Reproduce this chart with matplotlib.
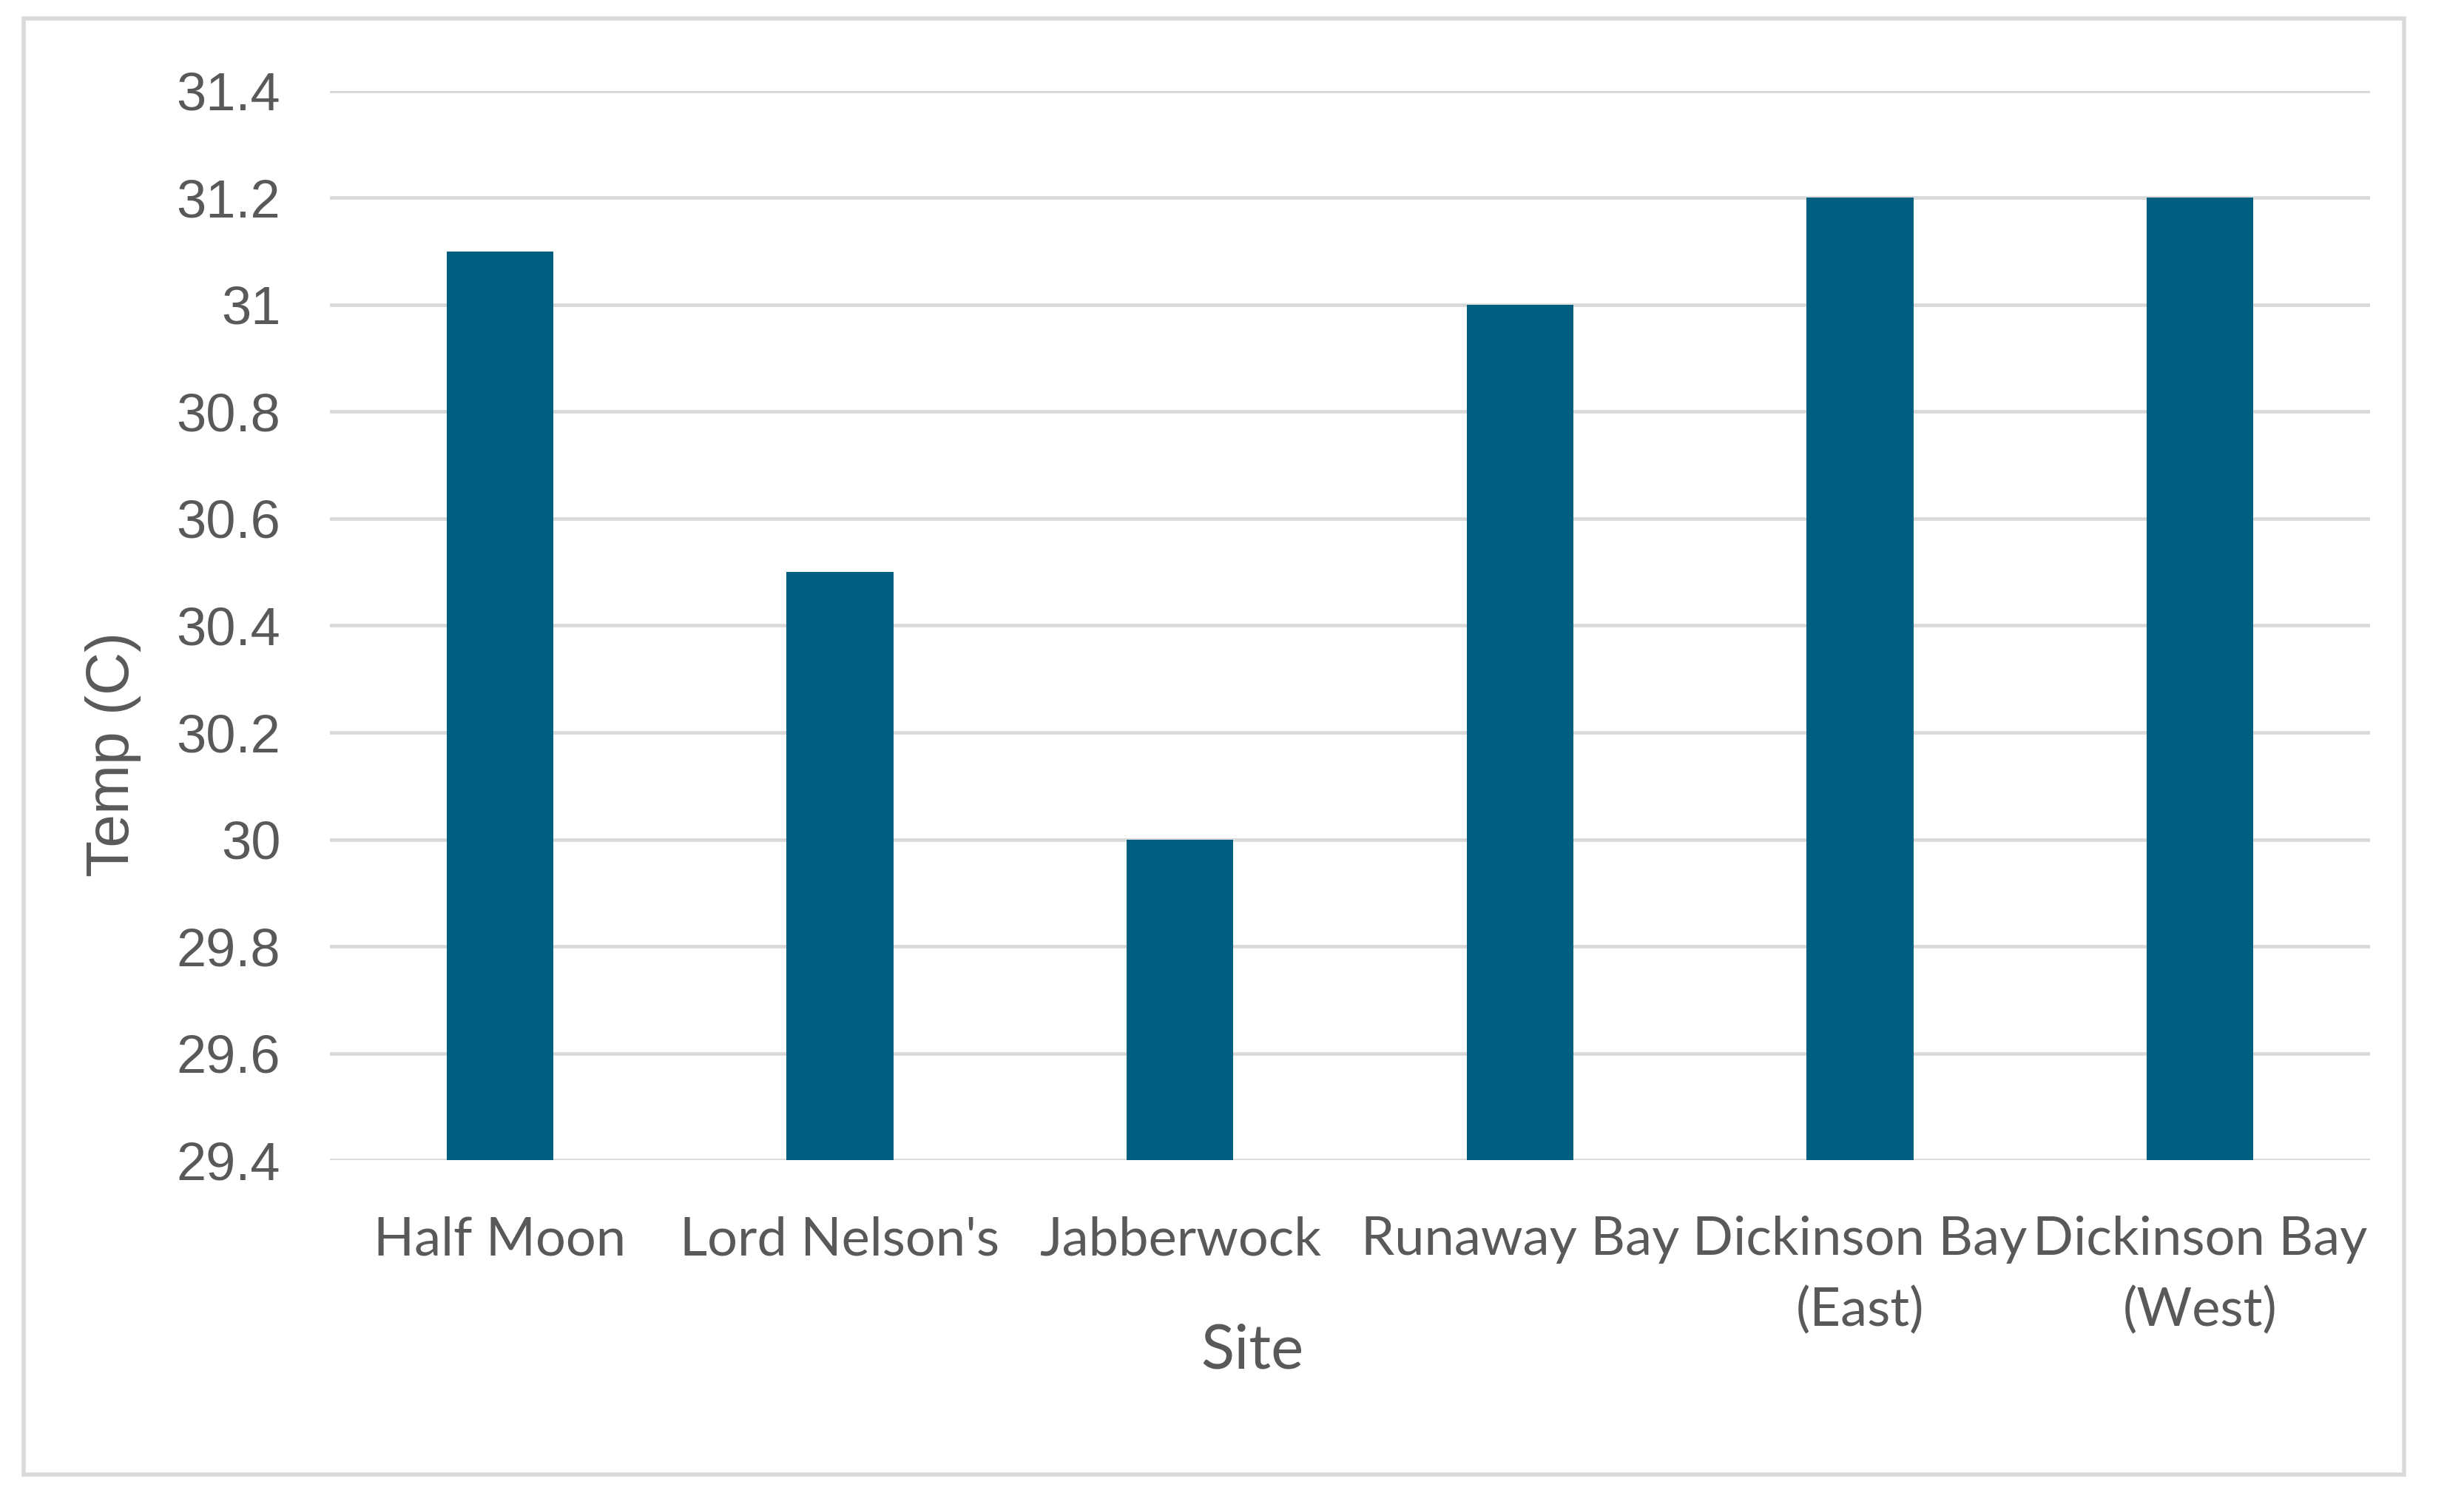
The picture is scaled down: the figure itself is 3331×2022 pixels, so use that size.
import matplotlib
matplotlib.use("Agg")
import matplotlib.pyplot as plt
from matplotlib.patches import Rectangle

sites = ["Half Moon", "Lord Nelson's", "Jabberwock", "Runaway Bay",
         "Dickinson Bay\n(East)", "Dickinson Bay\n(West)"]
temps = [31.1, 30.5, 30.0, 31.0, 31.2, 31.2]
yticks = [29.4, 29.6, 29.8, 30.0, 30.2, 30.4, 30.6, 30.8, 31.0, 31.2, 31.4]
ytick_labels = ["29.4", "29.6", "29.8", "30", "30.2", "30.4", "30.6", "30.8", "31", "31.2", "31.4"]

BAR = "#005F80"
GRID = "#D9D9D9"
TXT = "#595959"

fig = plt.figure(figsize=(3331/200, 2022/200), dpi=200)
fig.patch.set_facecolor("white")
fig.add_artist(Rectangle((0.0096, 0.0143), 0.9661, 0.9733, transform=fig.transFigure,
                         fill=False, edgecolor=GRID, linewidth=2.0))

ax = fig.add_axes([0.1339, 0.2245, 0.828, 0.7147])
x = list(range(len(sites)))
ax.bar(x, [t - 29.4 for t in temps], bottom=29.4, width=0.314, color=BAR, zorder=3)
ax.set_xlim(-0.5, len(sites) - 0.5)
ax.set_ylim(29.4, 31.4)
ax.set_yticks(yticks)
ax.set_yticklabels(ytick_labels, family="Liberation Sans", fontsize=26, color=TXT)
ax.set_xticks(x)
ax.set_xticklabels(sites, family="Lato", fontsize=26, color=TXT, linespacing=1.55)
ax.tick_params(axis="both", length=0)
ax.tick_params(axis="y", pad=24)
ax.tick_params(axis="x", pad=27)
ax.grid(axis="y", color=GRID, linewidth=1.7, zorder=0)
for s in ax.spines.values():
    s.set_visible(False)

fig.text(0.5083, 0.0966, "Site", family="Lato", fontsize=30, color=TXT,
         ha="center", va="center")
fig.text(0.0459, 0.4958, "Temp (C)", family="Liberation Sans", fontsize=29, color=TXT,
         ha="center", va="center", rotation=90)

fig.savefig("out.png", dpi=200, facecolor="white")
